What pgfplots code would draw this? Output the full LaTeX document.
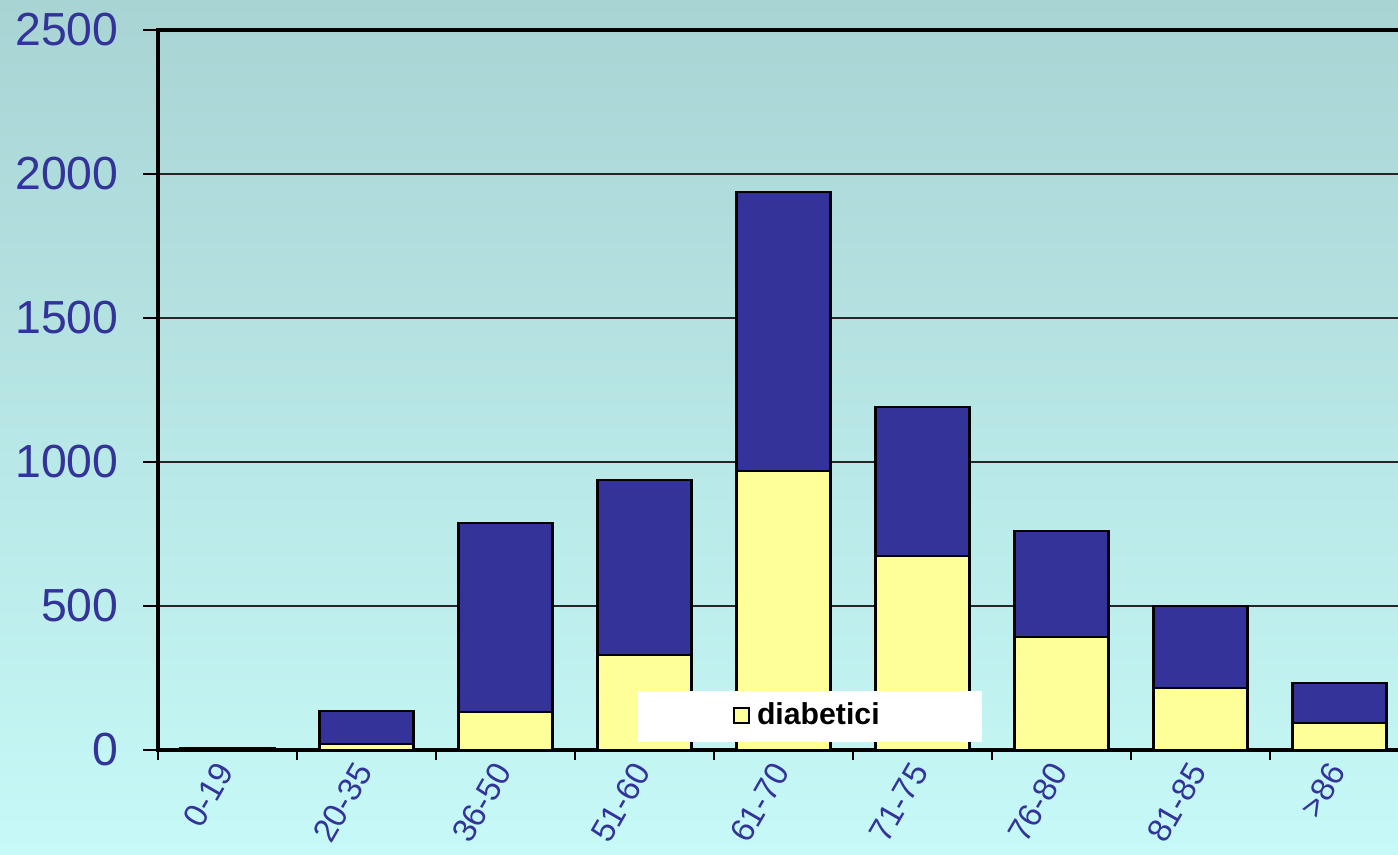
\documentclass[border=0pt]{standalone}
\usepackage{fontspec}
\setmainfont{Liberation Sans}
\usepackage{pgfplots}
\pgfplotsset{compat=1.18}
\definecolor{barblue}{HTML}{333399}
\definecolor{baryellow}{HTML}{FFFF99}
\definecolor{labelblue}{HTML}{333399}
\definecolor{bgtop}{RGB}{168,212,212}
\definecolor{bgbot}{RGB}{198,249,247}

\begin{document}
\begin{tikzpicture}
\useasboundingbox (0,0) rectangle (13.98,8.55);
\clip (0,0) rectangle (13.98,8.55);
\shade[top color=bgtop, bottom color=bgbot] (0,0) rectangle (13.98,8.55);
\begin{axis}[
  at={(1.58cm,1.05cm)}, anchor=south west,
  scale only axis, width=12.51cm, height=7.2cm,
  ybar stacked, bar width=0.94cm,
  xmin=-0.5, xmax=8.5, ymin=0, ymax=2500,
  ytick={0,500,...,2500},
  xtick={0,...,8},
  xticklabels={0-19,20-35,36-50,51-60,61-70,71-75,76-80,81-85,>86},
  minor xtick={-0.5,0.5,...,8.5},
  major x tick style={draw=none},
  minor tick length=0.1cm,
  major tick length=0.15cm,
  tick align=outside,
  tick pos=left,
  tick style={black, line width=0.6pt},
  ymajorgrids,
  grid style={black!85, line width=0.6pt},
  axis line style={black, line width=0.9pt},
  /pgf/number format/assume math mode=true,
  /pgf/number format/set thousands separator={},
  yticklabel style={font=\fontsize{13.2}{15}\selectfont, text=labelblue, xshift=-0.12cm},
  xticklabel style={font=\fontsize{9.4}{11}\selectfont, text=labelblue, rotate=60, anchor=east, yshift=0.02cm, xshift=0.1cm},
  legend style={at={(0.521,0.047)}, anchor=center, fill=white, draw=none,
    font=\fontsize{8.6}{10}\bfseries\selectfont, inner xsep=0.95cm, inner ysep=0.05cm},
  legend cell align=left,
]
\addplot[fill=baryellow, draw=black, line width=0.7pt,
  legend image code/.code={\draw[fill=baryellow, draw=black, line width=0.6pt] (0cm,-0.07cm) rectangle (0.15cm,0.08cm);}]
  coordinates {(0,2) (1,20) (2,132) (3,330) (4,969) (5,674) (6,392) (7,215) (8,94)};
\addlegendentry{diabetici}
\addplot[fill=barblue, draw=black, line width=0.7pt]
  coordinates {(0,3) (1,115) (2,656) (3,607) (4,968) (5,517) (6,368) (7,285) (8,139)};
\end{axis}
\end{tikzpicture}
\end{document}
